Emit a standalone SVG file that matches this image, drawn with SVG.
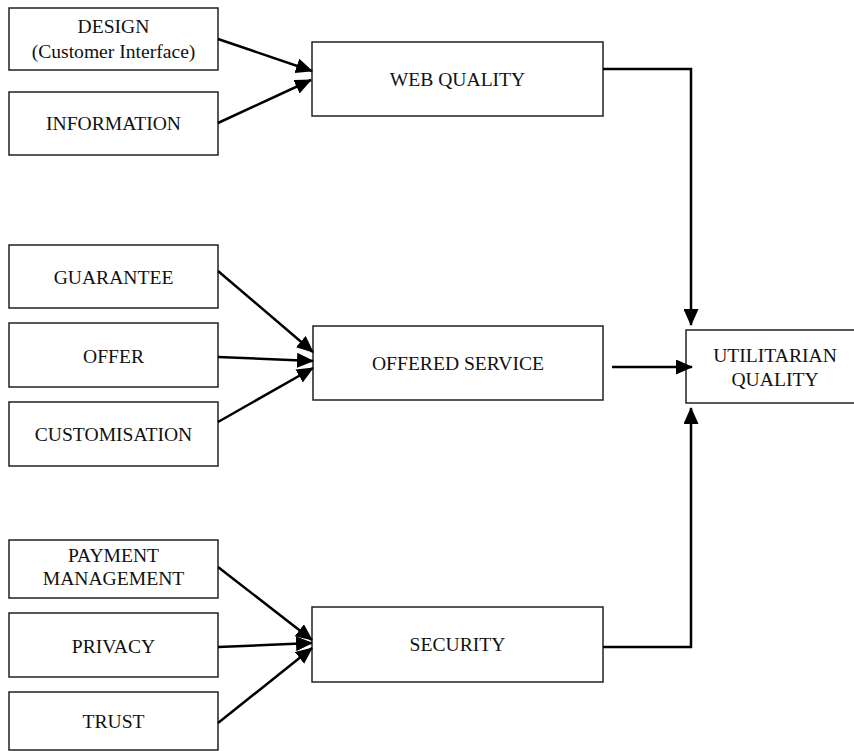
<svg xmlns="http://www.w3.org/2000/svg" width="854" height="751" viewBox="0 0 854 751">
<style>
.box{fill:#fff;stroke:#222;stroke-width:1.5}
.t{font-family:"Liberation Serif","Times New Roman",serif;font-size:19.6px;fill:#111;text-anchor:middle}
.c{fill:none;stroke:#000;stroke-width:2.5}
</style>
<defs>
<marker id="ah" markerUnits="userSpaceOnUse" markerWidth="17" markerHeight="15" refX="16" refY="7.5" orient="auto">
<path d="M0,0 L17,7.5 L0,15 Z" fill="#000"/>
</marker>
</defs>
<rect width="854" height="751" fill="#fff"/>
<g id="design"><rect class="box" x="9" y="8" width="209" height="62"/><text class="t" x="113.5" y="33">DESIGN</text><text class="t" x="113.5" y="58">(Customer Interface)</text></g>
<g id="information"><rect class="box" x="9" y="92" width="209" height="63"/><text class="t" x="113.5" y="130">INFORMATION</text></g>
<g id="webquality"><rect class="box" x="312" y="42" width="291" height="74"/><text class="t" x="457.5" y="86">WEB QUALITY</text></g>
<g id="guarantee"><rect class="box" x="9" y="245" width="209" height="63"/><text class="t" x="113.5" y="284">GUARANTEE</text></g>
<g id="offer"><rect class="box" x="9" y="323" width="209" height="64"/><text class="t" x="113.5" y="363">OFFER</text></g>
<g id="customisation"><rect class="box" x="9" y="402" width="209" height="64"/><text class="t" x="113.5" y="441">CUSTOMISATION</text></g>
<g id="offeredservice"><rect class="box" x="313" y="326" width="290" height="74"/><text class="t" x="458" y="370">OFFERED SERVICE</text></g>
<g id="utilitarian"><rect class="box" x="686" y="330" width="175" height="73"/><text class="t" x="775" y="362">UTILITARIAN</text><text class="t" x="775" y="386">QUALITY</text></g>
<g id="payment"><rect class="box" x="9" y="540" width="209" height="58"/><text class="t" x="113.5" y="562">PAYMENT</text><text class="t" x="113.5" y="585">MANAGEMENT</text></g>
<g id="privacy"><rect class="box" x="9" y="613" width="209" height="64"/><text class="t" x="113.5" y="653">PRIVACY</text></g>
<g id="trust"><rect class="box" x="9" y="692" width="209" height="58"/><text class="t" x="113.5" y="728">TRUST</text></g>
<g id="security"><rect class="box" x="312" y="607" width="291" height="75"/><text class="t" x="457.5" y="651">SECURITY</text></g>
<g id="connectors">
<line class="c" x1="218" y1="39" x2="312" y2="71" marker-end="url(#ah)"/>
<line class="c" x1="218" y1="123" x2="311" y2="80" marker-end="url(#ah)"/>
<line class="c" x1="218" y1="271" x2="313" y2="352" marker-end="url(#ah)"/>
<line class="c" x1="218" y1="357" x2="313" y2="361" marker-end="url(#ah)"/>
<line class="c" x1="218" y1="422" x2="313" y2="368" marker-end="url(#ah)"/>
<line class="c" x1="218" y1="567" x2="312" y2="640" marker-end="url(#ah)"/>
<line class="c" x1="218" y1="647" x2="312" y2="643" marker-end="url(#ah)"/>
<line class="c" x1="218" y1="723" x2="312" y2="648" marker-end="url(#ah)"/>
<path class="c" d="M603,69 H691 V325" marker-end="url(#ah)"/>
<line class="c" x1="612" y1="367" x2="692" y2="367" marker-end="url(#ah)"/>
<path class="c" d="M603,647 H691 V408" marker-end="url(#ah)"/>
</g>
</svg>
